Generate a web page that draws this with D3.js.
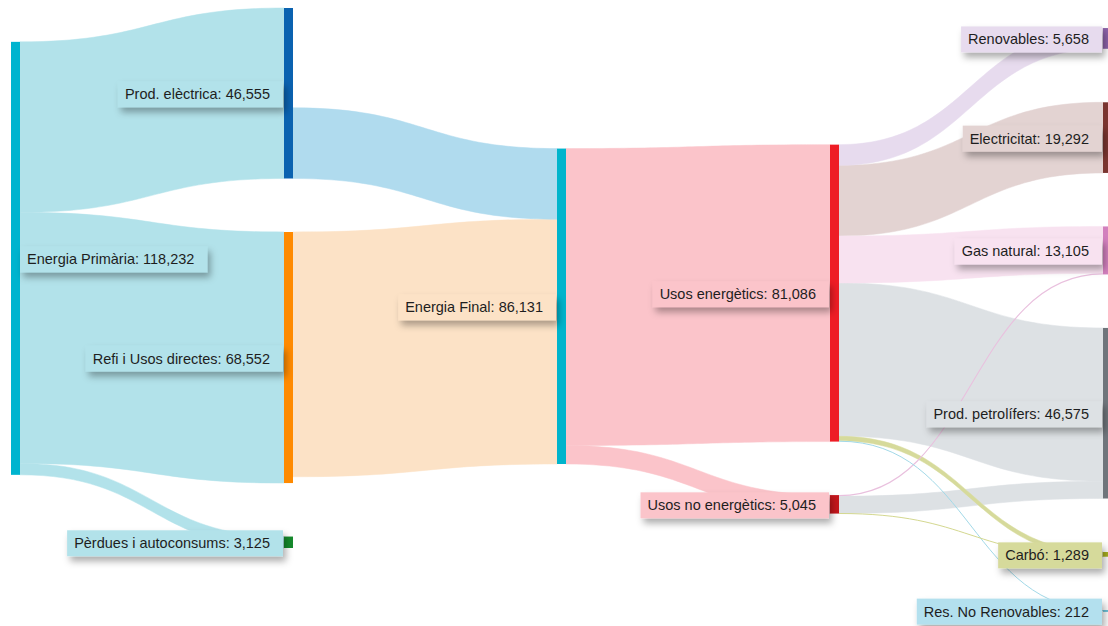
<!DOCTYPE html>
<html><head><meta charset="utf-8">
<script src="https://cdn.jsdelivr.net/npm/d3@7"></script>
<style>html,body{margin:0;padding:0;background:#fff;overflow:hidden}</style>
</head><body><svg id="chart" width="1108" height="626"></svg>
<script>
// ---------- DATA ----------
const nodeNames = ["Energia Primària", "Prod. elèctrica", "Refi i Usos directes", "Pèrdues i autoconsums",
  "Energia Final", "Usos energètics", "Usos no energètics",
  "Renovables", "Electricitat", "Gas natural", "Prod. petrolífers", "Carbó", "Res. No Renovables"];
const linkSources = ["Energia Primària", "Energia Primària", "Energia Primària",
  "Prod. elèctrica", "Refi i Usos directes",
  "Energia Final", "Energia Final",
  "Usos energètics", "Usos energètics", "Usos energètics", "Usos energètics", "Usos energètics", "Usos energètics",
  "Usos no energètics", "Usos no energètics", "Usos no energètics"];
const linkTargets = ["Prod. elèctrica", "Refi i Usos directes", "Pèrdues i autoconsums",
  "Energia Final", "Energia Final",
  "Usos energètics", "Usos no energètics",
  "Renovables", "Electricitat", "Gas natural", "Prod. petrolífers", "Carbó", "Res. No Renovables",
  "Gas natural", "Prod. petrolífers", "Carbó"];
const linkValues = [46555, 68552, 3125,
  19292, 66839,
  81086, 5045,
  5658, 19292, 12805, 41875, 1244, 212,
  300, 4700, 45];

// ---------- STYLE ----------
const nodeColor = {
  "Energia Primària": "#00b4cf", "Prod. elèctrica": "#0a62b0", "Refi i Usos directes": "#ff8a00",
  "Pèrdues i autoconsums": "#158a2c", "Energia Final": "#00b4cc", "Usos energètics": "#ee1d25",
  "Usos no energètics": "#c4161c", "Renovables": "#8c62a8", "Electricitat": "#7a3530",
  "Gas natural": "#d280bd", "Prod. petrolífers": "#6f757b", "Carbó": "#a9b020", "Res. No Renovables": "#45b2d0"
};
const nodeTint = {
  "Energia Primària": "#b2e2ea", "Prod. elèctrica": "#b0dbee", "Refi i Usos directes": "#fce2c6",
  "Pèrdues i autoconsums": "#b2e2ea", "Energia Final": "#b2e2ea", "Usos energètics": "#fbc4ca",
  "Usos no energètics": "#fbc4ca", "Renovables": "#e7dbee", "Electricitat": "#e3d3d2",
  "Gas natural": "#f8e2f0", "Prod. petrolífers": "#dde1e4", "Carbó": "#d6da9b", "Res. No Renovables": "#b3e0ee"
};
const W = 1108, H = 626;
const nodeWidth = 9, nodePadding = 53.5;
const extentTop = 8, extentBottom = 611;
const tallestColumn = 433;
const fontFamily = "'Liberation Sans', Arial, Helvetica, sans-serif";

// ---------- GRAPH ----------
const nodes = nodeNames.map(name => ({name, sourceLinks: [], targetLinks: []}));
const byName = new Map(nodes.map(n => [n.name, n]));
const links = linkValues.map((v, i) => ({source: byName.get(linkSources[i]), target: byName.get(linkTargets[i]), value: v}));
links.forEach(l => { l.source.sourceLinks.push(l); l.target.targetLinks.push(l); });
nodes.forEach(n => {
  n.inValue = d3.sum(n.targetLinks, l => l.value);
  n.outValue = d3.sum(n.sourceLinks, l => l.value);
  n.value = Math.max(n.inValue, n.outValue);
  n.weight = n.inValue + n.outValue;
});
let current = nodes.filter(n => !n.targetLinks.length), layer = 0;
while (current.length) {
  const next = new Set();
  current.forEach(n => { n.layer = layer; n.sourceLinks.forEach(l => next.add(l.target)); });
  current = Array.from(next); layer++;
}
const nLayers = d3.max(nodes, n => n.layer) + 1;
const columns = d3.range(nLayers).map(k => nodes.filter(n => n.layer === k));
const xScale = d3.scaleLinear().domain([0, nLayers - 1]).range([11, 1103]);
const valueScale = d3.scaleLinear().domain([0, d3.max(columns, c => d3.sum(c, n => n.value))]).range([0, tallestColumn]);
nodes.forEach(n => { n.x0 = xScale(n.layer); n.x1 = n.x0 + nodeWidth; n.dy = valueScale(n.value); });
links.forEach(l => l.width = valueScale(l.value));

// ---------- LAYOUT (link-straightening, projected onto padded columns) ----------
function computeLinkPositions() {
  nodes.forEach(n => {
    n.sourceLinks.sort((a, b) => a.target.y - b.target.y);
    n.targetLinks.sort((a, b) => a.source.y - b.source.y);
  });
  nodes.forEach(n => {
    let ty = n.y;
    n.targetLinks.forEach(l => { l.ty0 = ty; ty += l.width; });
  });
  // outgoing bundle slides inside a node whose outflow is smaller than its size
  nodes.forEach(n => {
    const outW = d3.sum(n.sourceLinks, l => l.width);
    let off = 0;
    if (n.sourceLinks.length && outW < n.dy - 0.5) {
      let acc = 0, num = 0, den = 0;
      n.sourceLinks.forEach(l => { num += (l.ty0 - acc - n.y) * l.value; den += l.value; acc += l.width; });
      off = Math.max(0, Math.min(n.dy - outW, num / den));
    }
    let sy = n.y + off;
    n.sourceLinks.forEach(l => { l.sy0 = sy; sy += l.width; });
  });
}
// weighted isotonic projection of a column (fixed order, padding, extent)
function projectColumn(col) {
  let off = 0;
  const items = col.map(n => { const it = {z: n.y - off, w: n.weight, o: off}; off += n.dy + nodePadding; return it; });
  const total = off - nodePadding;
  const blocks = [];
  items.forEach((it, i) => {
    blocks.push({s: it.z * it.w, w: it.w, a: i, b: i});
    while (blocks.length > 1) {
      const q = blocks[blocks.length - 1], p = blocks[blocks.length - 2];
      if (p.s / p.w <= q.s / q.w) break;
      p.s += q.s; p.w += q.w; p.b = q.b; blocks.pop();
    }
  });
  const lo = extentTop, hi = Math.max(lo, extentBottom - total);
  blocks.forEach(bk => {
    const v = Math.max(lo, Math.min(hi, bk.s / bk.w));
    for (let i = bk.a; i <= bk.b; i++) col[i].y = v + items[i].o;
  });
}
columns.forEach(col => { let y = extentTop; col.forEach(n => { n.y = y; y += n.dy + nodePadding; }); });
for (let it = 0; it < 1500; ++it) {
  computeLinkPositions();
  nodes.forEach(n => {
    let num = 0, den = 0;
    n.targetLinks.forEach(l => { num += (l.sy0 - l.ty0) * l.value; den += l.value; });
    n.sourceLinks.forEach(l => { num += (l.ty0 - l.sy0) * l.value; den += l.value; });
    n.delta = den ? num / den : 0;
  });
  nodes.forEach(n => n.y += 0.4 * n.delta);
  columns.forEach(projectColumn);
}
computeLinkPositions();
nodes.forEach(n => { n.y0 = n.y; n.y1 = n.y + n.dy; });

// ---------- DRAW ----------
const svg = d3.select("#chart");
const defs = svg.append("defs");
const f = defs.append("filter").attr("id", "shadow").attr("x", "-10%").attr("y", "-40%").attr("width", "125%").attr("height", "220%");
f.append("feDropShadow").attr("dx", 3).attr("dy", 5).attr("stdDeviation", 3.5)
  .attr("flood-color", "#000").attr("flood-opacity", 0.32);

const linkColor = l => l.source.layer < 2 ? nodeTint[l.source.name] : nodeTint[l.target.name];
function ribbon(l) {
  const sx = l.source.x1, tx = l.target.x0, xm = (sx + tx) / 2;
  const s0 = l.sy0, s1 = l.sy0 + l.width, t0 = l.ty0, t1 = l.ty0 + l.width;
  return `M${sx},${s0}C${xm},${s0} ${xm},${t0} ${tx},${t0}L${tx},${t1}C${xm},${t1} ${xm},${s1} ${sx},${s1}Z`;
}
function centerline(l) {
  const sx = l.source.x1, tx = l.target.x0, xm = (sx + tx) / 2;
  const s = l.sy0 + l.width / 2, t = l.ty0 + l.width / 2;
  return `M${sx},${s}C${xm},${s} ${xm},${t} ${tx},${t}`;
}
const thin = 2;
const sortedLinks = links.slice().sort((a, b) => b.width - a.width);
svg.append("g").selectAll("path").data(sortedLinks.filter(l => l.width >= thin)).join("path")
  .attr("d", ribbon).attr("fill", linkColor).attr("stroke", linkColor).attr("stroke-width", 0.5);
svg.append("g").selectAll("path").data(sortedLinks.filter(l => l.width < thin)).join("path")
  .attr("d", centerline).attr("fill", "none")
  .attr("stroke", l => d3.interpolateRgb(nodeColor[l.target.name], "#fff")(0.5))
  .attr("stroke-width", l => Math.max(1, l.width));

svg.append("g").selectAll("rect").data(nodes).join("rect")
  .attr("x", n => n.x0).attr("y", n => n.y0)
  .attr("width", n => Math.max(0, Math.min(n.x1, W) - n.x0))
  .attr("height", n => Math.max(1.5, n.dy))
  .attr("fill", n => nodeColor[n.name]);

const fmt = d3.format(",");
const labelFill = n => {
  const ls = n.targetLinks.length ? n.targetLinks : n.sourceLinks;
  return linkColor(d3.greatest(ls, l => l.value));
};
const lg = svg.append("g");
nodes.forEach(n => {
  const g = lg.append("g");
  const rect = g.append("rect").attr("fill", labelFill(n)).attr("filter", "url(#shadow)");
  const txt = g.append("text").text(`${n.name}: ${fmt(n.value)}`)
    .attr("font-family", fontFamily).attr("font-size", 14.5).attr("fill", "#1e1e1e");
  const tw = txt.node().getComputedTextLength();
  const padL = 7, padR = 13, bh = 26;
  const cy = (n.y0 + n.y1) / 2 + 1;
  const bx = n.layer === 0 ? n.x1 : n.x0 - 1 - (tw + padL + padR);
  rect.attr("x", bx).attr("y", cy - bh / 2).attr("width", tw + padL + padR).attr("height", bh);
  txt.attr("x", bx + padL).attr("y", cy + 5);
});
</script></body></html>
